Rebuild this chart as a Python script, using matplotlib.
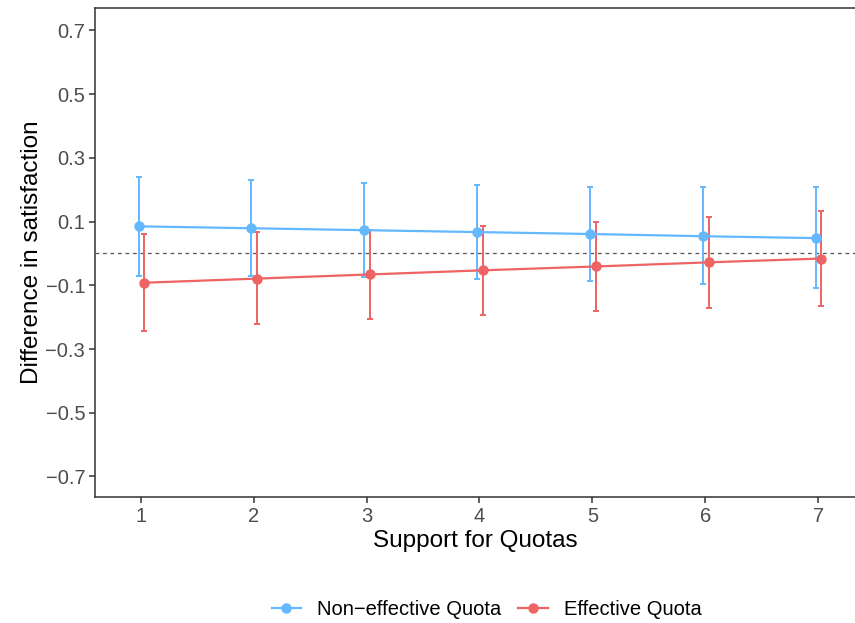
import matplotlib
matplotlib.use("Agg")
import matplotlib.pyplot as plt
import numpy as np

plt.rcParams["font.family"] = ["Liberation Sans", "DejaVu Sans"]

# data
support = [1, 2, 3, 4, 5, 6, 7]
tick_labels = ["1", "2", "3", "4", "5", "6", "7"]

noneff_est = [0.085, 0.079, 0.073, 0.067, 0.061, 0.054, 0.048]
noneff_lo = [-0.070, -0.072, -0.073, -0.079, -0.087, -0.096, -0.109]
noneff_hi = [0.241, 0.229, 0.220, 0.214, 0.210, 0.207, 0.207]

eff_est = [-0.092, -0.079, -0.066, -0.053, -0.041, -0.028, -0.016]
eff_lo = [-0.242, -0.223, -0.207, -0.193, -0.181, -0.171, -0.164]
eff_hi = [0.060, 0.067, 0.075, 0.086, 0.100, 0.115, 0.132]

y_ticks = [-0.7, -0.5, -0.3, -0.1, 0.1, 0.3, 0.5, 0.7]

BLUE = "#63B8FF"
RED = "#EE6363"
GREY = "#4D4D4D"

fig = plt.figure(figsize=(8.55, 6.23), dpi=100)
ax = fig.add_axes([0.111, 0.202, 0.889, 0.785])

x = np.array(support, dtype=float)
series = [
    ("Non\u2212effective Quota", noneff_est, noneff_lo, noneff_hi, BLUE, -0.02),
    ("Effective Quota", eff_est, eff_lo, eff_hi, RED, 0.03),
]
for label, est, lo, hi, col, dx in series:
    est = np.array(est)
    err = np.vstack([est - np.array(lo), np.array(hi) - est])
    ax.errorbar(x + dx, est, yerr=err, fmt="none", ecolor=col,
                elinewidth=1.4, capsize=2.0, capthick=1.4, zorder=2)
    ax.plot(x + dx, est, color=col, lw=1.6, marker="o", ms=6.5,
            label=label, zorder=3)

ax.axhline(0, color="#555555", lw=0.9, ls=(0, (3, 3)), zorder=1)

ax.set_xlim(0.593, 7.327)
ax.set_ylim(-0.765, 0.77)
ax.set_xticks(support)
ax.set_xticklabels(tick_labels)
ax.set_yticks(y_ticks)
ax.set_yticklabels([f"{v:.1f}".replace("-", "\u2212") for v in y_ticks])

ax.spines["right"].set_visible(False)
for s in ["left", "bottom", "top"]:
    ax.spines[s].set_color("#333333")
    ax.spines[s].set_linewidth(1.1)
ax.tick_params(colors="#333333", labelcolor=GREY, labelsize=14.5,
               length=4, width=1.1, pad=3)

ax.set_xlabel("Support for Quotas", fontsize=17.5, color="black", labelpad=3)
ax.set_ylabel("Difference in satisfaction", fontsize=17.5, color="black",
              labelpad=2)

leg = fig.legend(loc="center", bbox_to_anchor=(0.569, 0.022), ncol=2,
                 frameon=False, fontsize=14.5, handlelength=1.45,
                 columnspacing=0.85, handletextpad=0.8)

fig.savefig("out.png", dpi=100)
